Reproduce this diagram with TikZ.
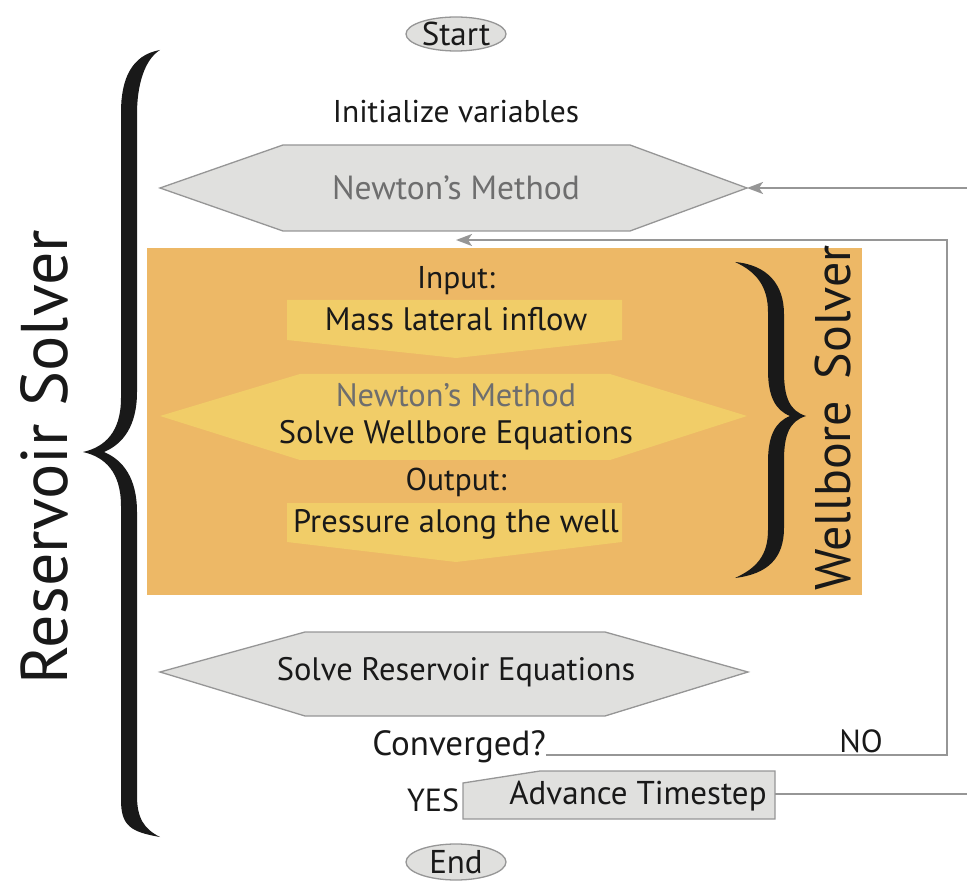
\documentclass[tikz,border=0pt]{standalone}
\usepackage{fontspec}
\setmainfont{PT Sans}
\usetikzlibrary{arrows.meta,shapes.geometric}
\definecolor{boxgray}{RGB}{224,224,222}
\definecolor{linegray}{RGB}{150,150,150}
\definecolor{textgray}{RGB}{110,110,110}
\definecolor{orangebg}{RGB}{237,184,102}
\definecolor{yellowsh}{RGB}{241,205,104}
\definecolor{ink}{RGB}{25,25,25}
\newcommand\myfs[1]{\fontsize{#1}{#1}\selectfont}
\tikzset{
  grayshape/.style={fill=boxgray,draw=linegray,line width=1.3pt,line join=miter},
  yellowshape/.style={fill=yellowsh,draw=none},
  conn/.style={draw=linegray,line width=2pt},
  tip/.style={-{Stealth[length=16pt,width=12pt,inset=4pt]}},
  lbl/.style={inner sep=0pt,text=ink},
  blbl/.style={inner sep=0pt,text=ink,anchor=base},
  brace/.style={fill=ink,draw=none}
}
\begin{document}
\begin{tikzpicture}[x=1pt,y=-1pt]
\useasboundingbox (0,0) rectangle (967,882);

% Start / End
\node[grayshape,ellipse,minimum width=100pt,minimum height=34pt,inner sep=0pt] (start) at (456,34) {};
\node[lbl] (starttxt) at (456,34) {\myfs{33}Start};
\node[grayshape,ellipse,minimum width=100pt,minimum height=36pt,inner sep=0pt] (end) at (456,862) {};
\node[lbl] (endtxt) at (456,862) {\myfs{33}End};

% Initialize
\node[lbl] (init) at (456,112) {\myfs{31.5}Initialize variables};

% Newton hexagon (reservoir)
\path[grayshape] (160,188) -- (283,145) -- (630,145) -- (747,188) -- (630,231) -- (283,231) -- cycle;
\coordinate (nmright) at (747,188);
\node[lbl,text=textgray] (nm) at (456,188) {\myfs{33.5}Newton’s Method};

% Orange wellbore box
\fill[orangebg] (147,248) rectangle (862,595);

% Mass lateral inflow arrow box
\path[yellowshape] (287,300) -- (622,300) -- (622,340) -- (456,358) -- (287,340) -- cycle;
\node[blbl] (input) at (456,289) {\myfs{31.5}Input:};
\node[blbl] (mass) at (456,331) {\myfs{32.5}Mass lateral inflow};

% Wellbore Newton hexagon
\path[yellowshape] (160,416) -- (300,374) -- (610,374) -- (747,416) -- (610,460) -- (300,460) -- cycle;
\node[blbl,text=textgray] (nmw) at (456,407) {\myfs{32.5}Newton’s Method};
\node[blbl] (swe) at (456,444) {\myfs{32.5}Solve Wellbore Equations};

% Output
\node[blbl] (output) at (456,491) {\myfs{31.5}Output:};
\path[yellowshape] (287,503) -- (622,503) -- (622,542) -- (456,562) -- (287,542) -- cycle;
\node[blbl] (press) at (456,532) {\myfs{32.5}Pressure along the well};

% Wellbore brace
\path[brace] (735,262) .. controls (768,265) and (784,285) .. (784,314) -- (784,372)
  .. controls (784,398) and (790,411) .. (806,416)
  .. controls (790,421) and (784,434) .. (784,460) -- (784,528)
  .. controls (784,558) and (768,574) .. (735,578)
  .. controls (757,568) and (768,555) .. (768,530) -- (768,462)
  .. controls (768,436) and (775,422) .. (790,416)
  .. controls (775,410) and (768,396) .. (768,370) -- (768,312)
  .. controls (768,287) and (757,272) .. (735,262) -- cycle;
\node[lbl,rotate=90] (wbs) at (833,418) {\myfs{50}Wellbore\, Solver};

% Reservoir brace
\path[brace] (160,50) .. controls (131,55) and (121,80) .. (121,112) -- (121,398)
  .. controls (121,432) and (105,447) .. (83,452)
  .. controls (105,457) and (121,472) .. (121,506) -- (121,800)
  .. controls (121,826) and (131,832) .. (160,837)
  .. controls (144,829) and (137,818) .. (137,796) -- (137,512)
  .. controls (137,478) and (123,460) .. (104,452)
  .. controls (123,444) and (137,426) .. (137,392) -- (137,114)
  .. controls (137,86) and (144,60) .. (160,50) -- cycle;
\node[lbl,rotate=90] (rs) at (44,457) {\myfs{66}Reservoir Solver};

% Solve Reservoir Equations hexagon
\path[grayshape] (160,672) -- (305,632) -- (605,632) -- (748,672) -- (605,716) -- (305,716) -- cycle;
\node[lbl] (sre) at (456,672) {\myfs{32.5}Solve Reservoir Equations};

% Converged
\node[lbl,anchor=base east] (conv) at (546,755) {\myfs{35}Converged?};
\node[lbl,anchor=base] (no) at (861,752) {\myfs{32}NO};
\coordinate (loopcorner1) at (947,755);
\coordinate (loopcorner2) at (947,240);
\coordinate (loopend) at (456,240);

% Advance timestep
\path[grayshape] (463,783) -- (540,771) -- (775,771) -- (775,819) -- (463,819) -- cycle;
\coordinate (advright) at (775,794);
\node[lbl] (adv) at (638,796) {\myfs{33}Advance Timestep};
\node[lbl] (yes) at (433,800) {\myfs{32}YES};

% Connectors
\coordinate (rightin) at (967,188);
\coordinate (rightout) at (967,794);
\draw[conn,tip] (rightin) -- (nmright);
\draw[conn,tip] (conv.base east) -- (loopcorner1) -- (loopcorner2) -- (loopend);
\draw[conn] (advright) -- (rightout);
\end{tikzpicture}
\end{document}
